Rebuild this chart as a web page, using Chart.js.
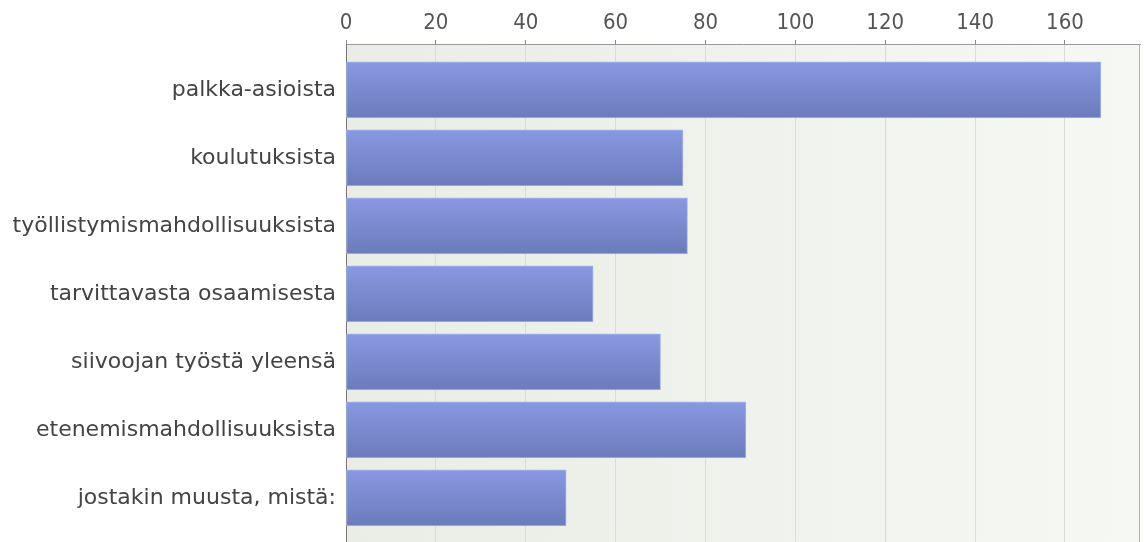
<!DOCTYPE html>
<html lang="fi">
<head>
<meta charset="UTF-8">
<title>Kaavio</title>
<script src="https://cdn.jsdelivr.net/npm/chart.js@4/dist/chart.umd.min.js"></script>
<style>
  html, body { margin: 0; padding: 0; background: #fff; }
  .wrap { width: 1144px; height: 542px; position: relative; }
</style>
</head>
<body>
<div class="wrap"><canvas id="chart"></canvas></div>
<script>
const categories = ['palkka-asioista', 'koulutuksista', 'työllistymismahdollisuuksista',
  'tarvittavasta osaamisesta', 'siivoojan työstä yleensä', 'etenemismahdollisuuksista',
  'jostakin muusta, mistä:'];
const answers = [168, 75, 76, 55, 70, 89, 49];
const xTicks = [0, 20, 40, 60, 80, 100, 120, 140, 160];

// taustan liukuväri ja kehys
const plotBg = {
  id: 'plotBg',
  beforeDraw(chart) {
    const { ctx, chartArea: a } = chart;
    const g = ctx.createLinearGradient(a.left, 0, a.right, 0);
    g.addColorStop(0, '#e9ede5');
    g.addColorStop(1, '#f6f8f4');
    ctx.save();
    ctx.fillStyle = g;
    ctx.fillRect(a.left, a.top, a.right - a.left, a.bottom - a.top);
    ctx.restore();
  },
  afterDraw(chart) {
    const { ctx, chartArea: a } = chart;
    ctx.save();
    ctx.strokeStyle = '#b0b0b0';
    ctx.lineWidth = 1;
    ctx.beginPath();
    ctx.moveTo(a.right - 0.5, a.top);
    ctx.lineTo(a.right - 0.5, a.bottom);
    ctx.stroke();
    ctx.restore();
  }
};

function barFill(c) {
  const chart = c.chart;
  if (!chart.chartArea || c.dataIndex === undefined) return '#7686cc';
  const y = chart.scales.y.getPixelForValue(c.dataIndex);
  const g = chart.ctx.createLinearGradient(0, y - 28, 0, y + 28);
  g.addColorStop(0, '#8899e2');
  g.addColorStop(1, '#6b7bbb');
  return g;
}

new Chart(document.getElementById('chart'), {
  type: 'bar',
  data: {
    datasets: [{
      data: answers.map((v, i) => ({ x: v, y: i })),
      backgroundColor: barFill,
      borderColor: '#a9b5e8',
      borderWidth: 1,
      borderSkipped: false,
      barThickness: 56
    }]
  },
  options: {
    indexAxis: 'y',
    responsive: true,
    maintainAspectRatio: false,
    animation: false,
    layout: { padding: { right: 4, top: 0, bottom: 0, left: 0 } },
    plugins: { legend: { display: false }, tooltip: { enabled: false } },
    scales: {
      x: {
        type: 'linear',
        position: 'top',
        min: 0,
        max: 176.7,
        afterBuildTicks: s => { s.ticks = xTicks.map(v => ({ value: v })); },
        afterFit: s => { s.height = 44; s.paddingLeft = 0; s.paddingRight = 0; },
        grid: { color: '#dadcd6', tickColor: '#888', tickLength: 4 },
        border: { color: '#999' },
        ticks: {
          color: '#555',
          padding: 4,
          font: { family: 'DejaVu Sans Condensed, DejaVu Sans', size: 22 }
        }
      },
      y: {
        type: 'linear',
        reverse: true,
        offset: false,
        min: -0.676,
        max: 6.65,
        afterBuildTicks: s => { s.ticks = categories.map((c, i) => ({ value: i })); },
        afterFit: s => { s.width = 346; s.paddingTop = 0; s.paddingBottom = 0; },
        grid: { display: false, drawTicks: false, tickLength: 0 },
        border: { color: '#777' },
        ticks: {
          color: '#444',
          padding: 10,
          font: { family: 'DejaVu Sans', size: 22 },
          callback: v => categories[v]
        }
      }
    }
  },
  plugins: [plotBg]
});
</script>
</body>
</html>
